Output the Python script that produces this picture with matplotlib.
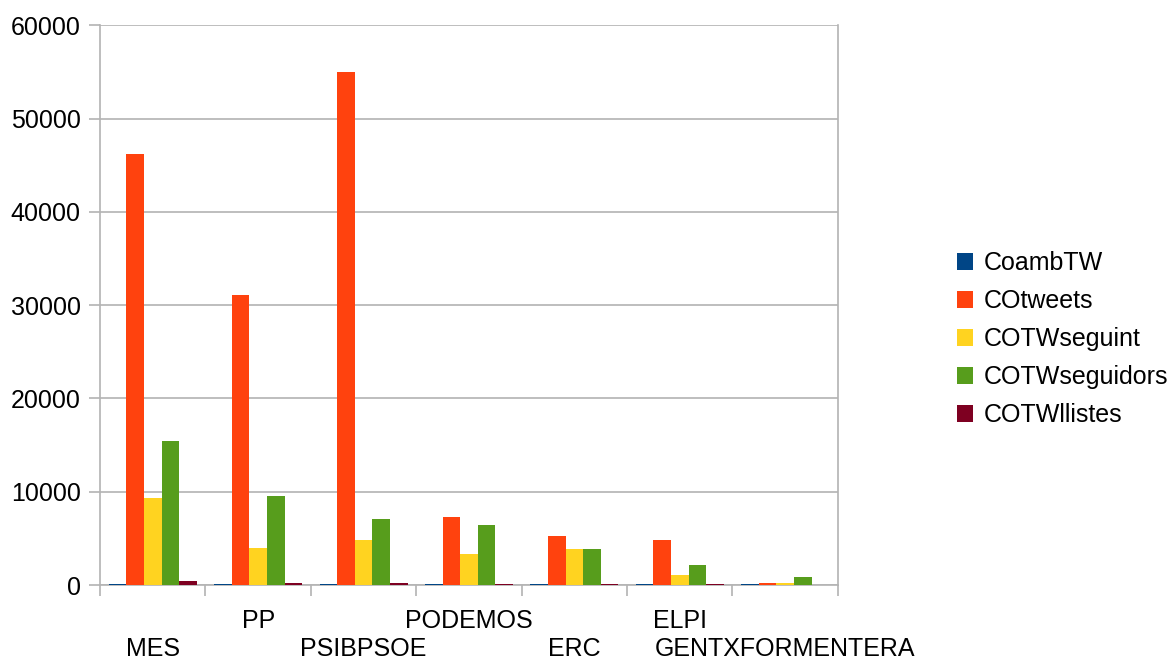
import matplotlib.pyplot as plt
import numpy as np
from matplotlib.patches import Patch

plt.rcParams['font.family'] = ['Liberation Sans', 'DejaVu Sans']

# categories and series
parties = ['MES', 'PP', 'PSIBPSOE', 'PODEMOS', 'ERC', 'ELPI', 'GENTXFORMENTERA']
series_names = ['CoambTW', 'COtweets', 'COTWseguint', 'COTWseguidors', 'COTWllistes']
coambtw = [110, 110, 110, 110, 110, 110, 110]
cotweets = [46250, 31100, 54950, 7250, 5300, 4870, 250]
cotw_seguint = [9300, 4000, 4780, 3370, 3900, 1110, 250]
cotw_seguidors = [15400, 9500, 7130, 6480, 3900, 2180, 890]
cotw_llistes = [460, 250, 250, 140, 140, 60, 40]
y_ticks = [0, 10000, 20000, 30000, 40000, 50000, 60000]

colors = ['#004586', '#ff420e', '#ffd320', '#579d1c', '#7e0021']
grid_col = '#b3b3b3'

fig = plt.figure(figsize=(11.73, 6.6), dpi=100)
ax = fig.add_axes([0.0853, 0.1136, 0.629, 0.848])

all_series = [coambtw, cotweets, cotw_seguint, cotw_seguidors, cotw_llistes]
x = np.arange(len(parties))
w = 0.167
for i, (vals, col) in enumerate(zip(all_series, colors)):
    ax.bar(x + (i - 2) * w, vals, width=w, color=col, linewidth=0, zorder=3)

ax.set_xlim(-0.5, len(parties) - 0.5)
ax.set_ylim(0, 60000)
ax.set_yticks(y_ticks)
ax.set_yticklabels([str(v) for v in y_ticks])
ax.yaxis.grid(True, color=grid_col, linewidth=1.2, zorder=0)
for s in ax.spines.values():
    s.set_color(grid_col)
    s.set_linewidth(1.2)
ax.spines['top'].set_visible(False)

ax.tick_params(axis='y', length=8, width=1.2, color=grid_col, pad=6, labelsize=18)

# category labels at centres, staggered in two rows
ax.set_xticks(x)
ax.set_xticklabels(parties, fontsize=18)
ax.tick_params(axis='x', which='major', length=0)
for k, t in enumerate(ax.xaxis.get_major_ticks()):
    t.set_pad(37.5 if k % 2 == 0 else 17.5)
# boundary tick marks
ax.set_xticks(np.arange(-0.5, len(parties), 1), minor=True)
ax.tick_params(axis='x', which='minor', length=8, width=1.2, color=grid_col)

handles = [Patch(facecolor=c, edgecolor='none') for c in colors]
fig.legend(handles, series_names, loc='center left', bbox_to_anchor=(0.797, 0.486),
           frameon=False, fontsize=18, handlelength=0.62, handleheight=0.62,
           handletextpad=0.45, labelspacing=0.56)

fig.savefig('out.png', dpi=100)
